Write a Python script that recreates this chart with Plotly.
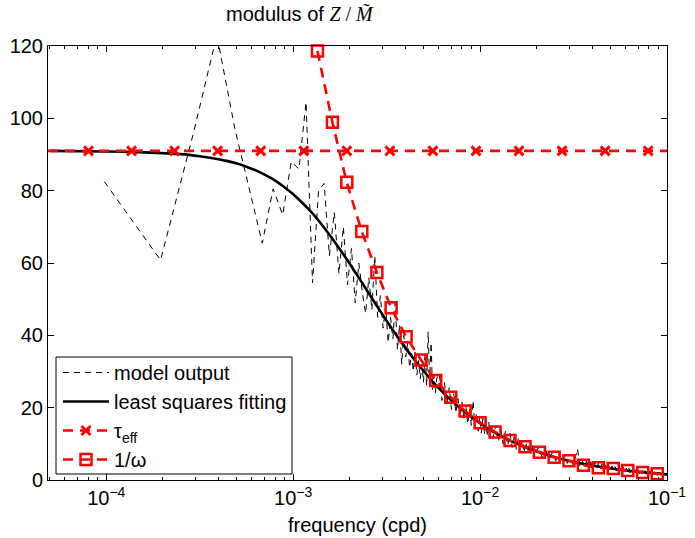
import plotly.graph_objects as go

# Frequency resolution of the model record (cpd): 1 / 10240 days
DF = 1 / 10240

# Model output: harmonic index k (f = k * DF) and modulus
mo_k = (list(range(1, 61)) + list(range(62, 121, 2))
        + list(range(124, 201, 4)) + list(range(210, 1021, 10)))
mo_val = [
    82.5, 60.8, 96, 123, 97, 80, 65.5, 80.5, 73.3, 88, 86, 104.5,
    54.5, 80, 82, 62, 74, 57, 70, 54, 64, 49, 60, 52, 46, 56, 47, 62,
    45, 51, 42, 48, 38, 45, 39, 49, 36, 43, 32, 40, 34, 38, 31, 35,
    30, 36, 29, 33, 28, 32, 27, 35, 26, 41, 27, 38, 25, 29, 24, 28,
    # k = 62 .. 120 step 2
    29.5, 22, 27, 21, 25.5, 19.5, 24, 18.5, 22.5, 17.5, 21.5, 16.5,
    20.5, 15.5, 19.5, 15, 22, 14.5, 18.5, 13.5, 17.5, 13, 17, 12.5,
    16.5, 12, 16, 11.5, 15.5, 11.5,
    # k = 124 .. 200 step 4
    15, 10.5, 14, 10, 13.5, 9.5, 13, 9, 12, 8.5, 11.5, 8, 11, 7.5,
    10.5, 7.5, 10, 7, 9.5, 6.5,
    # k = 210 .. 1020 step 10
    9.0, 6.3, 8.2, 5.8, 7.6, 5.3, 7.1, 4.9, 6.7, 4.6, 6.2, 4.3, 5.9,
    8.6, 4.0, 5.5, 3.7, 5.2, 3.5, 5.0, 3.3, 4.8, 3.2, 4.6, 3.0, 4.4,
    2.9, 4.2, 2.8, 4.0, 2.7, 3.9, 2.6, 3.7, 2.5, 3.6, 2.4, 3.5, 2.3,
    3.4, 2.2, 3.3, 2.1, 3.2, 2.0, 3.1, 2.0, 3.0, 1.9, 2.9, 1.8, 2.8,
    1.8, 2.7, 1.7, 2.7, 1.6, 2.6, 1.6, 2.5, 1.5, 2.5, 1.5, 2.4, 1.4,
    2.4, 1.4, 2.3, 1.4, 2.2, 1.3, 2.2, 1.3, 2.1, 1.3, 2.1, 1.2, 2.0,
    1.2, 2.0, 1.2, 1.9,
]
mo_f = [k * DF for k in mo_k]

# Least squares fit (smooth curve)
fit_f = [5.01e-5, 1.0e-4, 1.585e-4, 2.512e-4, 3.162e-4, 3.981e-4, 4.467e-4,
         5.012e-4, 5.623e-4, 6.31e-4, 7.079e-4, 7.943e-4, 8.913e-4, 1.0e-3,
         1.122e-3, 1.259e-3, 1.413e-3, 1.585e-3, 1.778e-3, 1.995e-3,
         2.239e-3, 2.512e-3, 2.818e-3, 3.162e-3, 3.548e-3, 3.981e-3,
         4.467e-3, 5.012e-3, 5.623e-3, 6.31e-3, 7.079e-3, 7.943e-3,
         8.913e-3, 1.0e-2, 1.122e-2, 1.259e-2, 1.413e-2, 1.585e-2,
         1.778e-2, 1.995e-2, 2.512e-2, 3.162e-2, 3.981e-2, 5.012e-2,
         6.31e-2, 7.943e-2, 1.0e-1]
fit_val = [91.0, 90.85, 90.6, 90.1, 89.5, 88.7, 88.17, 87.5, 86.63, 85.6,
           84.35, 82.9, 81.08, 79.0, 76.59, 73.9, 70.79, 67.4, 63.81, 60.0,
           56.02, 52.0, 47.98, 44.0, 40.23, 36.6, 33.17, 30.0, 27.02, 24.3,
           21.82, 19.6, 17.52, 15.7, 14.01, 12.5, 11.18, 10.0, 8.91, 7.95,
           6.32, 5.03, 3.99, 3.17, 2.52, 2.00, 1.59]

# Effective time scale tau_eff (days)
tau_eff = 91.0
tau_line_f = [4.88e-5, 1.0e-1]
tau_mark_f = [8.04e-5, 1.366e-4, 2.322e-4, 3.946e-4, 6.707e-4, 1.140e-3,
              1.937e-3, 3.292e-3, 5.595e-3, 9.506e-3, 1.615e-2, 2.745e-2,
              4.666e-2, 7.93e-2]

# 1/omega (days)
inv_f = [1.349e-3, 1.622e-3, 1.936e-3, 2.329e-3, 2.805e-3, 3.343e-3,
         4.02e-3, 4.83e-3, 5.79e-3, 6.97e-3, 8.32e-3, 1.0e-2, 1.202e-2,
         1.445e-2, 1.74e-2, 2.076e-2, 2.49e-2, 2.99e-2, 3.57e-2, 4.29e-2,
         5.16e-2, 6.17e-2, 7.41e-2, 8.87e-2, 1.0e-1]
inv_val = [118.6, 98.9, 82.3, 68.7, 57.4, 47.6, 39.6, 33.2, 27.5, 22.9, 19.1,
           15.8, 13.3, 10.9, 9.2, 7.7, 6.3, 5.3, 4.1, 3.4, 3.2, 2.6, 2.1,
           1.7, 1.6]

y_ticks = [0, 20, 40, 60, 80, 100, 120]
x_ticks = [1e-4, 1e-3, 1e-2, 1e-1]
x_ticktext = ["10<sup>\u22124</sup>", "10<sup>\u22123</sup>",
              "10<sup>\u22122</sup>", "10<sup>\u22121</sup>"]
x_minor = [m * 10.0 ** e for e in (-5, -4, -3, -2) for m in range(2, 10)]

labels = ["model output", "least squares fitting",
          "\u03c4<sub>eff</sub>", "1/\u03c9"]

RED = "#ff0000"
FONT = "Liberation Sans, Arial, sans-serif"
FS = 20

X_MARK = dict(symbol="x-thin", size=9, color=RED, opacity=1,
              line=dict(color=RED, width=3))
SQ_LINE = dict(color=RED, width=2.5)
RED_DASH = dict(color=RED, width=2.6, dash="10px,7px")
BLACK_DASH = dict(color="black", width=1, dash="6px,5px")

assert len(mo_k) == len(mo_val)
assert len(fit_f) == len(fit_val)

fig = go.Figure()

# data traces
fig.add_trace(go.Scatter(x=mo_f, y=mo_val, mode="lines", showlegend=False,
                         line=BLACK_DASH))
fig.add_trace(go.Scatter(x=fit_f, y=fit_val, mode="lines", showlegend=False,
                         line=dict(color="black", width=2.6, shape="spline",
                                   smoothing=0.6)))
fig.add_trace(go.Scatter(x=tau_line_f, y=[tau_eff] * len(tau_line_f),
                         mode="lines", showlegend=False, line=RED_DASH))
fig.add_trace(go.Scatter(x=tau_mark_f, y=[tau_eff] * len(tau_mark_f),
                         mode="markers", showlegend=False, marker=X_MARK))
fig.add_trace(go.Scatter(x=inv_f, y=inv_val, mode="lines", showlegend=False,
                         line=RED_DASH))
fig.add_trace(go.Scatter(x=inv_f[:-1], y=inv_val[:-1], mode="markers",
                         showlegend=False, cliponaxis=False,
                         marker=dict(symbol="square-open", size=11, color=RED,
                                     opacity=1, line=SQ_LINE)))

# legend entries
fig.add_trace(go.Scatter(x=[None], y=[None], mode="lines", name=labels[0],
                         legendgroup="a", line=BLACK_DASH))
fig.add_trace(go.Scatter(x=[None], y=[None], mode="lines", name=labels[1],
                         legendgroup="b",
                         line=dict(color="black", width=2.6)))
fig.add_trace(go.Scatter(x=[None], y=[None], mode="lines+markers",
                         name=labels[2], legendgroup="c",
                         line=RED_DASH, marker=X_MARK))
fig.add_trace(go.Scatter(x=[None], y=[None], mode="lines+markers",
                         name=labels[3], legendgroup="d", line=RED_DASH,
                         marker=dict(symbol="square-open", size=11, color=RED,
                                     opacity=1, line=SQ_LINE)))

L, R, T, B = 48, 28, 46, 58
W, H = 695, 538
pw, ph = W - L - R, H - T - B


def px_x(p):
    return (p - L) / pw


def px_y(p):
    return (H - B - p) / ph


fig.update_layout(
    width=W, height=H,
    margin=dict(l=L, r=R, t=T, b=B, pad=0, autoexpand=False),
    paper_bgcolor="white", plot_bgcolor="white",
    font=dict(family=FONT, size=FS, color="black"),
    legend=dict(
        x=px_x(58), y=px_y(353),
        xanchor="left", yanchor="top",
        bgcolor="rgba(0,0,0,0)", borderwidth=0,
        font=dict(family=FONT, size=FS, color="black"),
        itemwidth=46, tracegroupgap=0,
    ),
    shapes=[dict(
        type="rect", xref="paper", yref="paper", layer="above",
        x0=px_x(56), x1=px_x(292), y0=px_y(474), y1=px_y(357),
        line=dict(color="black", width=1), fillcolor="white",
    )],
    xaxis=dict(
        type="log", range=[-4.3116, -1.0], automargin=False,
        tickmode="array", tickvals=x_ticks, ticktext=x_ticktext,
        ticks="inside", ticklen=6, tickwidth=1, tickcolor="black",
        showline=True, linecolor="black", linewidth=1, mirror="ticks",
        showgrid=False, zeroline=False,
        minor=dict(tickmode="array", tickvals=x_minor, ticks="inside",
                   ticklen=3, tickcolor="black", showgrid=False),
        title=dict(text="frequency (cpd)", standoff=9,
                   font=dict(family=FONT, size=FS)),
        tickfont=dict(family=FONT, size=FS),
    ),
    yaxis=dict(
        range=[0, 120], tickmode="array", tickvals=y_ticks, automargin=False,
        ticks="inside", ticklen=6, tickwidth=1, tickcolor="black",
        showline=True, linecolor="black", linewidth=1, mirror="ticks",
        showgrid=False, zeroline=False,
        tickfont=dict(family=FONT, size=FS),
    ),
    annotations=[dict(
        text=("modulus of <span style=\"font-family:Liberation Serif\">"
              "<i>Z</i> / <i>M\u0303</i></span>"),
        xref="paper", yref="paper",
        x=px_x(300), y=px_y(14),
        xanchor="center", yanchor="middle", showarrow=False,
        font=dict(family=FONT, size=FS, color="black"),
    )],
)

fig.write_html("out.html")
